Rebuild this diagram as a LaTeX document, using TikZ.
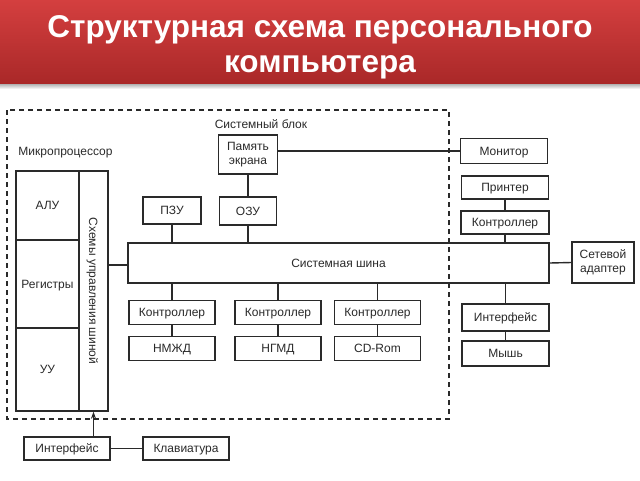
\documentclass[tikz,border=0pt]{standalone}
\usepackage{fontspec}
\setmainfont{Liberation Sans}
\usetikzlibrary{arrows.meta}
\definecolor{bandtop}{HTML}{D43F3F}
\definecolor{bandbot}{HTML}{A92828}
\definecolor{ink}{HTML}{2A2A2A}
\tikzset{
	lbl/.style={font=\fontsize{12}{14}\selectfont,text=ink},
	box/.style 2 args={draw=ink,line width=1.4pt,fill=white,inner sep=0pt,lbl,text height=8.6pt,text depth=0pt,minimum width=#1,minimum height=#2},
	twoline/.style={align=center,text height=,text depth=},
	wire/.style={draw=ink,line width=1.4pt},
}
\begin{document}
\begin{tikzpicture}[x=1pt,y=-1pt]
	\useasboundingbox (0,0) rectangle (640,480);
	% title
	\shade[top color=bandtop,bottom color=bandbot] (0,0) rectangle (640,84);
	\shade[top color=black!30,bottom color=white] (0,84) rectangle (640,89);
	\node[text=white,font=\fontsize{31.5}{35}\selectfont\bfseries,align=center] (title) at (320,47) {Структурная схема персонального\\компьютера};
	% system unit
	\node[lbl] (sblbl) at (261,124) {Системный блок};
	\node[box={59}{39},twoline] (pam) at (248,154.5) {Память\\экрана};
	\node[box={58}{27}] (pzu) at (172,210.5) {ПЗУ};
	\node[box={57}{28}] (ozu) at (248,211) {ОЗУ};
	\node[box={421}{40}] (bus) at (338.5,263) {Системная шина};
	% microprocessor
	\node[lbl] (mplbl) at (65.5,153) {Микропроцессор};
	\node[box={63}{69}] (alu) at (47.5,205.5) {АЛУ};
	\node[box={63}{88}] (reg) at (47.5,284) {Регистры};
	\node[box={63}{83}] (uu) at (47.5,369.5) {УУ};
	\node[box={240}{29},rotate=-90] (shm) at (93.5,291) {Схемы управления шиной};
	% controllers and drives
	\foreach \n/\x/\d in {c1/172/НМЖД, c2/278/НГМД, c3/377.5/CD-Rom} {
			\node[box={86}{24}] (\n) at (\x,312.5) {Контроллер};
			\node[box={86}{24}] (\n d) at (\x,348.5) {\d};
			\draw[wire] (\n.north |- bus.south) -- (\n.north);
			\draw[wire] (\n.south) -- (\n d.north);
		}
	% outside devices
	\node[box={87}{25}] (mon) at (504,151) {Монитор};
	\node[box={87}{23}] (prn) at (505,187.5) {Принтер};
	\node[box={88}{23}] (ctr) at (505,222.5) {Контроллер};
	\node[box={62}{41},twoline] (net) at (603,262.5) {Сетевой\\адаптер};
	\node[box={87}{27}] (ifr) at (505.5,317.5) {Интерфейс};
	\node[box={87}{25}] (mouse) at (505.5,353.5) {Мышь};
	\node[box={86}{23}] (ifl) at (67,448.5) {Интерфейс};
	\node[box={86}{23}] (kbd) at (186,448.5) {Клавиатура};
	% connections
	\draw[wire] (pam) -- (ozu);
	\draw[wire] (pzu) -- (pzu |- bus.north);
	\draw[wire] (ozu) -- (ozu |- bus.north);
	\draw[wire] (mon.west -| pam.east) -- (mon.west);
	\draw[wire] (prn) -- (ctr);
	\draw[wire] (ctr) -- (ctr |- bus.north);
	\draw[wire] (bus.east) -- (net.west);
	\draw[wire] (shm.north |- 0,265) -- (bus.west |- 0,265);
	\draw[wire] (ifr |- bus.south) -- (ifr);
	\draw[wire] (ifr) -- (mouse);
	\draw[wire] (ifl) -- (kbd);
	\draw[wire,-{Stealth[length=7pt,width=5pt]}] (ifl.north -| shm.east) -- (shm.east);
	% dashed frame
	\draw[ink,line width=1.2pt,dash pattern=on 5pt off 4pt] (7,110) rectangle (449,419);
\end{tikzpicture}
\end{document}
